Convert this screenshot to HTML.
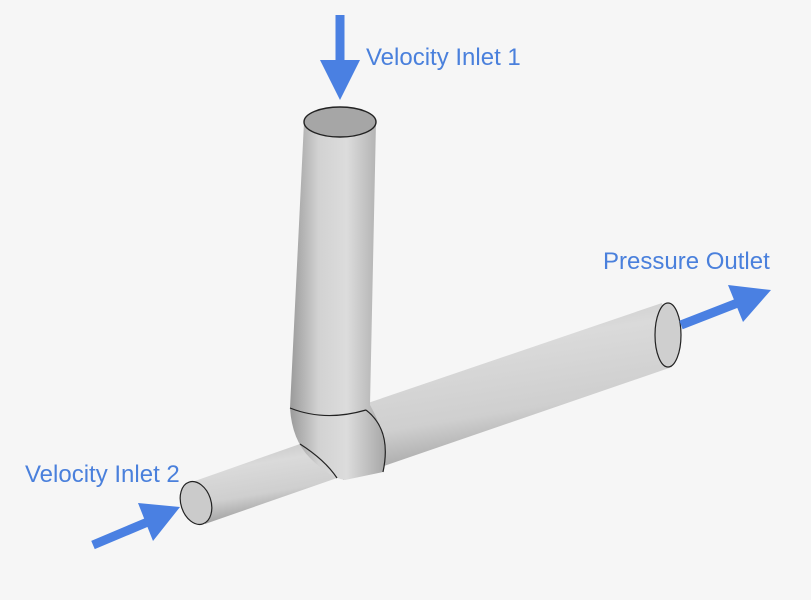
<!DOCTYPE html>
<html><head><meta charset="utf-8"><style>
html,body{margin:0;padding:0;background:#f6f6f6;}
svg{display:block;}
text{font-family:"Liberation Sans",sans-serif;font-size:24px;fill:#4a80dc;}
</style></head><body>
<svg width="811" height="600" viewBox="0 0 811 600" xmlns="http://www.w3.org/2000/svg">
<defs>
<linearGradient id="gv" x1="0" y1="0" x2="1" y2="0">
<stop offset="0" stop-color="#9a9a9a"/><stop offset="0.3" stop-color="#d2d2d2"/><stop offset="0.6" stop-color="#dcdcdc"/><stop offset="1" stop-color="#a8a8a8"/></linearGradient>
<linearGradient id="gh" x1="0" y1="0" x2="0.3" y2="1">
<stop offset="0" stop-color="#bdbdbd"/><stop offset="0.35" stop-color="#dadada"/><stop offset="0.7" stop-color="#cfcfcf"/><stop offset="1" stop-color="#9a9a9a"/></linearGradient>
</defs>
<rect width="811" height="600" fill="#f6f6f6"/>
<path d="M192,482 L300,444 Q325,460 337,478 L205,524 Z" fill="url(#gh)"/>
<path d="M362,405 L662,303 L672,367 L343,480 Z" fill="url(#gh)"/>
<ellipse cx="668" cy="335" rx="13" ry="32" fill="#cfcfcf" stroke="#222" stroke-width="1.2"/>
<path d="M304,122 L290,408 Q292,440 310,458 Q330,478 345,480 L383,472 Q390,440 370,405 L376,122 Z" fill="url(#gv)"/>
<path d="M300,444 Q325,460 337,478" fill="none" stroke="#222" stroke-width="1.2"/>
<path d="M290,408 Q325,422 366,410" fill="none" stroke="#222" stroke-width="1.2"/>
<path d="M366,410 Q392,430 383,472" fill="none" stroke="#222" stroke-width="1.2"/>
<ellipse cx="340" cy="122" rx="36" ry="15" fill="#a6a6a6" stroke="#222" stroke-width="1.4"/>
<ellipse cx="196" cy="503" rx="15" ry="22" transform="rotate(-18 196 503)" fill="#cbcbcb" stroke="#222" stroke-width="1.2"/>
<g fill="#4a80e2" stroke="#4a80e2">
<line x1="340" y1="15" x2="340" y2="65" stroke-width="9"/>
<polygon points="320,60 360,60 340,100" stroke="none"/>
<line x1="93" y1="545" x2="150" y2="521" stroke-width="9"/>
<polygon points="138,503 180,507 153,541" stroke="none"/>
<line x1="681" y1="325" x2="740" y2="302" stroke-width="9"/>
<polygon points="728,285 771,290 743,322" stroke="none"/>
</g>
<text x="366" y="65">Velocity Inlet 1</text>
<text x="603" y="269">Pressure Outlet</text>
<text x="25" y="482">Velocity Inlet 2</text>
</svg>
</body></html>
